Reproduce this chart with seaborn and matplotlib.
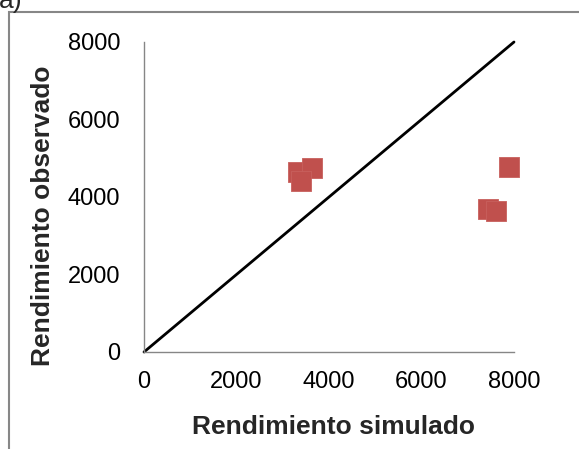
import matplotlib
matplotlib.use("Agg")
import matplotlib.pyplot as plt
import seaborn as sns
import pandas as pd
from matplotlib.patches import Rectangle

# Simulated vs observed yield
simulado = [3330, 3630, 3390, 7890, 7440, 7610]
observado = [4650, 4750, 4410, 4780, 3680, 3640]

# 1:1 reference line
linea_x = [0, 8000]
linea_y = [0, 8000]

ticks = [0, 2000, 4000, 6000, 8000]

sns.set_theme(style="white")
plt.rcParams["font.family"] = ["Liberation Sans", "DejaVu Sans"]

fig = plt.figure(figsize=(5.79, 4.49), dpi=100)
ax = fig.add_axes([144 / 579, 1 - 352 / 449, 370 / 579, 310 / 449])

df_pts = pd.DataFrame({"sim": simulado, "obs": observado})
df_line = pd.DataFrame({"x": linea_x, "y": linea_y})

sns.lineplot(data=df_line, x="x", y="y", ax=ax, color="black", linewidth=2.0,
             zorder=2, clip_on=False)
sns.scatterplot(data=df_pts, x="sim", y="obs", ax=ax, marker="s", s=215,
                color="#C0504D", edgecolor="#C8605D", linewidth=0.6, zorder=3,
                clip_on=False)

ax.set_xlim(0, 8000)
ax.set_ylim(0, 8000)
ax.set_xticks(ticks)
ax.set_yticks(ticks)
ax.set_xticklabels([str(t) for t in ticks])
ax.set_yticklabels([str(t) for t in ticks])

for side in ["top", "right"]:
    ax.spines[side].set_visible(False)
for side in ["left", "bottom"]:
    ax.spines[side].set_color("#868686")
    ax.spines[side].set_linewidth(1.0)

ax.tick_params(axis="both", which="major", direction="out", length=6,
               width=1.0, color="#868686", labelsize=17, labelcolor="black")
ax.tick_params(axis="y", pad=11)
ax.tick_params(axis="x", pad=8)

ax.set_xlabel("Rendimiento simulado", fontsize=19, fontweight="bold",
              va="center", ha="center")
ax.set_ylabel("Rendimiento observado", fontsize=19, fontweight="bold",
              va="center", ha="center")
ax.xaxis.set_label_coords(0.512, -0.242)
ax.yaxis.set_label_coords(-0.273, 0.44)

# Surrounding frame of the panel
fig.patches.append(Rectangle((9 / 579, -0.1), 1.2, 1 - 12 / 449 + 0.1,
                             transform=fig.transFigure, fill=False,
                             edgecolor="#878787", linewidth=1.5))

fig.text(-0.002, 1 - 8 / 449, "a)", fontsize=19, ha="left", va="baseline")

fig.savefig("out.png", dpi=100)
